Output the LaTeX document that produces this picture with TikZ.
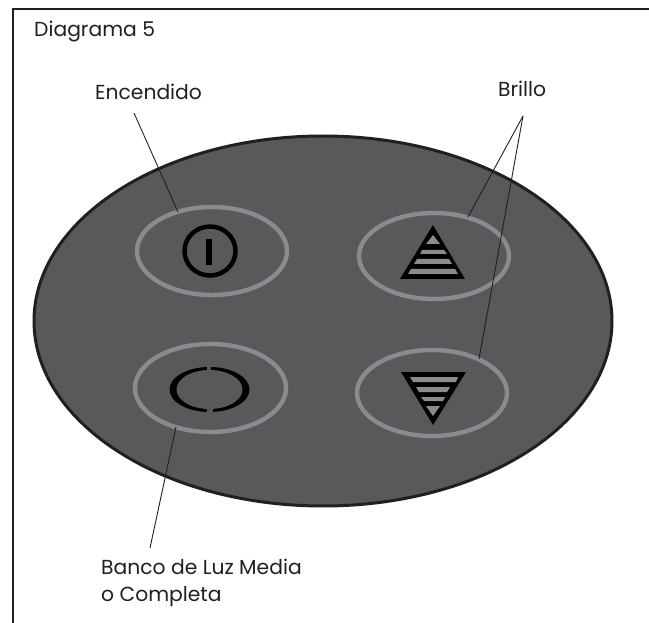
\documentclass[tikz,border=0pt]{standalone}
\usepackage{fontspec}
\setmainfont{Poppins}
\definecolor{panel}{HTML}{58595B}
\definecolor{ring}{HTML}{8A8B8E}
\definecolor{inkc}{HTML}{231F20}
\tikzset{
  lbl/.style={font=\fontsize{20.3}{27}\selectfont,text=inkc,inner sep=0pt,anchor=base west,align=left},
  leader/.style={draw=inkc,line width=0.9pt},
  ringst/.style={draw=ring,line width=4.4pt},
  sym/.style={draw=black,line width=4.5pt}
}
\begin{document}
\begin{tikzpicture}[x=1pt,y=-1pt]
\useasboundingbox (0,0) rectangle (649,623);
\fill[white] (0,0) rectangle (649,623);
\draw[draw=inkc,line width=1.2pt] (13,623) -- (13,9) -- (649,9);
\draw[fill=panel,draw=inkc,line width=3pt] (323,321) ellipse [x radius=289,y radius=185];
\draw[ringst] (212,251) ellipse [x radius=75,y radius=44];
\draw[ringst] (434,256) ellipse [x radius=75,y radius=43];
\draw[ringst] (210.5,388) ellipse [x radius=75.5,y radius=44];
\draw[ringst] (432,393) ellipse [x radius=75,y radius=43];
% power
\draw[sym] (210,251) ellipse [x radius=25.5,y radius=24.5];
\fill[black] (206,239) rectangle (212,265);
% half/full
\fill[black] (209.5,389.5) ellipse [x radius=40,y radius=22.5];
\fill[panel] (209.5,389.5) ellipse [x radius=33,y radius=19.5];
\fill[panel] (207,364) rectangle (211,390);
\fill[panel] (207,390) rectangle (213,415);
% up triangle
\fill[black] (433,225) -- (400,279) -- (465,279) -- cycle;
\fill[ring] (433,235) -- (426,244) -- (440,244) -- cycle;
\fill[ring] (422,250) -- (444,250) -- (447,254) -- (420,254) -- cycle;
\fill[ring] (417,259) -- (449,259) -- (452,264) -- (414,264) -- cycle;
\fill[ring] (411,269) -- (455,269) -- (458,274) -- (408,274) -- cycle;
% down triangle
\fill[black] (401,372) -- (466,372) -- (433,425) -- cycle;
\fill[ring] (410,377) -- (458,377) -- (456,382) -- (413,382) -- cycle;
\fill[ring] (416,387) -- (450,387) -- (447,392) -- (419,392) -- cycle;
\fill[ring] (421,397) -- (445,397) -- (443,401) -- (424,401) -- cycle;
\fill[ring] (426,406) -- (440,406) -- (433,416) -- cycle;
% labels
\node[lbl] (d) at (34,37) {Diagrama 5};
\node[lbl] (e) at (95,100) {Encendido};
\node[lbl] (b) at (498,97) {Brillo};
\node[lbl] (m) at (101,601) {Banco de Luz Media\\o Completa};
\coordinate (e1) at (134,113);
\coordinate (e2) at (178,212);
\coordinate (b0) at (523,116);
\coordinate (b1) at (468,217);
\coordinate (b2) at (479,359);
\coordinate (m1) at (176,427);
\coordinate (m2) at (150,548);
\draw[leader] (e1) -- (e2);
\draw[leader] (b0) -- (b1);
\draw[leader] (b0) -- (b2);
\draw[leader] (m1) -- (m2);
\end{tikzpicture}
\end{document}
